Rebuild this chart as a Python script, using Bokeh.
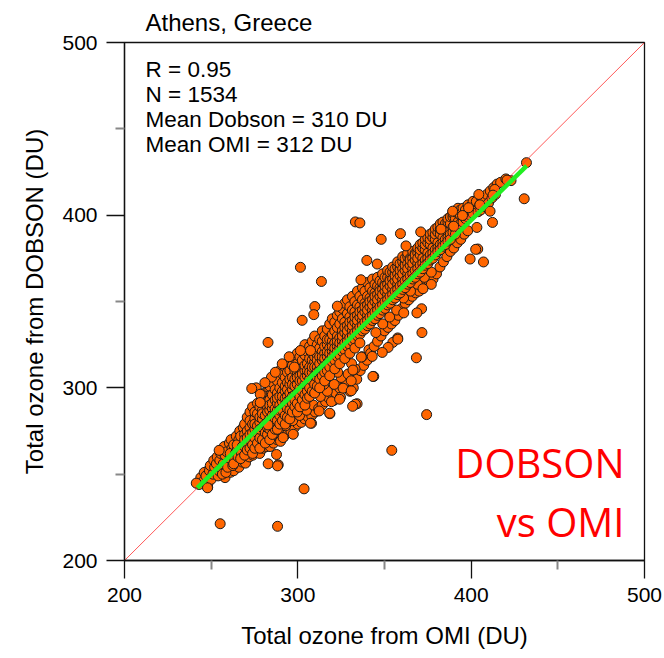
from bokeh.plotting import figure
from bokeh.models import Range1d, Label, FixedTicker, ColumnDataSource
from bokeh.embed import file_html
from bokeh.resources import INLINE

# ---------------- data ----------------
station = "Athens, Greece"
stats_lines = ["R = 0.95", "N = 1534", "Mean Dobson = 310 DU", "Mean OMI = 312 DU"]
x_title = "Total ozone from OMI (DU)"
y_title = "Total ozone from DOBSON (DU)"
big_lines = ["DOBSON", "vs OMI"]
major_ticks = [200, 300, 400, 500]
minor_ticks = [250, 350, 450]
one_to_one = [200, 500]
fit_omi = [242, 432]
fit_dobson = [242.1, 428.5]

# lower-left tail of the cloud (OMI, Dobson)
cloud_tail = [
    (243,244),(244,248),(245.5,246),(246,251),(247,249),(248,244),
    (249,252),(250,247),(249.5,255),(251,250),(252,254),(251.5,258),
    (253,256),(254,249),(253.5,260),(254.5,252),(255,258),(256,253),(255.5,262),(256.5,250),
    (257,256),(258,261),(257.5,266),(258.5,251),(259,263),(260,257),(259.5,254),(260.5,268),
    (261,259),(262,265),(261.5,270),(262.5,255),(261,262),
    (263,267),(264,262),(263.5,258),(264.5,272),(263,256),
    (265,264),(266,270),(265.5,260),(266.5,275),(265,267),
    (267,272),(268,266),(267.5,262),(268.5,277),(267,259),
]

# main body of the cloud: OMI value with the Dobson values seen around it
cloud_groups = [
    (269.3, [266, 273, 279, 261, 270]),
    (270.8, [275, 268, 283, 264, 271]),
    (272.4, [270, 277, 286, 265, 273, 281]),
    (273.9, [279, 267, 274, 289, 262]),
    (275.2, [282, 271, 276, 286, 265, 279]),
    (276.7, [274, 285, 268, 291, 278]),
    (278.1, [280, 289, 271, 283, 276, 265]),
    (279.6, [287, 277, 293, 270, 282, 285]),
    (281.2, [284, 274, 291, 279, 297, 268]),
    (282.5, [289, 280, 273, 286, 295, 277]),
    (283.8, [282, 293, 301, 276, 287, 270, 290]),
    (285.3, [288, 279, 296, 284, 273, 303, 291]),
    (286.9, [293, 285, 299, 276, 288, 281, 307]),
    (288.2, [287, 297, 281, 304, 291, 276, 294]),
    (289.6, [295, 284, 300, 290, 310, 279, 287]),
    (291.1, [292, 303, 287, 298, 281, 308, 295]),
    (292.7, [298, 290, 306, 284, 301, 294, 312, 279]),
    (294.0, [295, 288, 303, 299, 283, 309, 292]),
    (295.4, [302, 293, 310, 287, 297, 305, 282, 315]),
    (296.9, [299, 306, 291, 313, 286, 302, 295]),
    (298.3, [305, 296, 301, 310, 289, 317, 293]),
    (299.7, [302, 309, 297, 314, 291, 306, 320, 286]),
    (301.2, [307, 300, 312, 295, 304, 318, 289]),
    (302.6, [304, 311, 298, 316, 293, 308, 322]),
    (304.1, [310, 302, 306, 319, 296, 313, 290, 325]),
    (305.5, [307, 314, 301, 321, 298, 310, 294]),
    (306.8, [312, 305, 317, 300, 309, 324, 295]),
    (308.3, [309, 316, 304, 320, 298, 312, 327]),
    (309.7, [315, 307, 312, 322, 302, 318, 297, 330]),
    (311.2, [312, 319, 306, 316, 325, 301, 309]),
    (312.6, [318, 310, 314, 323, 305, 328, 300]),
    (314.1, [316, 321, 311, 327, 307, 318, 333]),
    (315.5, [320, 313, 324, 309, 317, 330, 304]),
    (317.0, [318, 325, 314, 321, 334, 310, 328]),
    (318.4, [323, 316, 328, 312, 320, 337, 307]),
    (319.9, [321, 327, 318, 331, 315, 324, 340]),
    (321.3, [326, 320, 333, 316, 323, 338, 311]),
    (322.8, [324, 330, 321, 335, 318, 327, 342]),
    (324.2, [329, 323, 337, 319, 326, 344, 314]),
    (325.7, [327, 333, 324, 340, 321, 330, 346]),
    (327.1, [332, 326, 338, 322, 335, 349, 317]),
    (328.6, [330, 336, 327, 343, 324, 333, 351]),
    (330.0, [335, 329, 341, 325, 338, 347, 320]),
    (331.5, [333, 339, 330, 345, 327, 336, 353]),
    (332.9, [338, 332, 344, 328, 341, 350, 323]),
    (334.4, [336, 342, 333, 348, 330, 339, 356]),
    (335.8, [341, 335, 347, 331, 344, 353, 326]),
    (337.3, [339, 345, 336, 351, 333, 342, 358]),
    (338.7, [344, 338, 349, 334, 347, 356]),
    (340.2, [342, 348, 339, 353, 336, 345, 361]),
    (341.6, [347, 341, 352, 337, 350, 358]),
    (343.1, [345, 351, 342, 356, 339, 348, 363]),
    (344.5, [350, 344, 355, 340, 353, 360]),
    (346.0, [348, 354, 345, 359, 342, 351, 364]),
    (347.4, [353, 347, 358, 343, 356, 362]),
    (348.9, [351, 357, 348, 361, 345, 354, 366]),
    (350.3, [356, 350, 360, 346, 359, 364]),
    (351.8, [354, 360, 351, 364, 348, 357, 368]),
    (353.2, [359, 353, 363, 349, 362, 367]),
    (354.7, [357, 363, 354, 367, 351, 360, 370]),
    (356.1, [362, 356, 366, 352, 365, 369]),
    (357.6, [360, 366, 357, 370, 354, 363, 373]),
    (359.0, [365, 359, 369, 355, 368, 372]),
    (360.5, [363, 369, 360, 373, 357, 366, 376]),
    (361.9, [368, 362, 372, 358, 371, 375]),
    (363.4, [366, 372, 363, 376, 360, 369, 378]),
    (364.8, [371, 365, 375, 361, 374]),
    (366.3, [369, 375, 366, 379, 363, 372]),
    (367.7, [374, 368, 378, 364, 377]),
    (369.2, [372, 378, 369, 381, 366, 375]),
    (370.6, [377, 371, 380, 367, 383]),
    (372.1, [375, 381, 372, 384, 369]),
    (373.5, [380, 374, 383, 371, 386]),
    (375.0, [378, 384, 375, 387, 372]),
    (376.4, [383, 377, 386, 374, 389]),
    (377.9, [381, 387, 378, 390, 375]),
    (379.3, [386, 380, 389, 377, 392]),
    (380.8, [384, 390, 381, 393, 379]),
    (382.2, [389, 383, 392, 380, 395]),
    (383.7, [387, 393, 384, 396, 382]),
    (385.1, [392, 386, 395, 383]),
    (386.6, [390, 396, 387, 398, 385]),
    (388.0, [395, 389, 399, 386]),
    (389.5, [393, 399, 390, 401]),
    (390.9, [398, 392, 402, 389]),
    (392.4, [396, 401, 393, 404]),
    (393.8, [400, 395, 403]),
    (395.3, [398, 404, 396]),
    (396.7, [403, 398, 400]),
    (398.2, [401, 406, 399]),
    (399.6, [405, 400, 403]),
    (401.1, [404, 408, 401]),
]

# upper-right end of the cloud
cloud_top = [
    (403,408),(404,402),(405,406),(406,410),(405.5,403),
    (407,410),(408,405),(409,412),(410,407),(411,414),(412,410),
    (413,416),(414,412),(415,418),(417,419),(420,421),(423,420),
]

# lower flank of the cloud (below the fit line)
cloud_lower = [
    (247.7,251.7),(248,242.4),(258,248),(261.2,251.1),(263,252),(266,254),(268,257),
    (269.8,256.4),(272,260),(274,261),(276,263),(278,262),(280,265),(282,266),
    (282.9,256),(288.7,255.4),(287.7,261.4),(291.5,271.4),(297.3,273.4),
    (284,266),(286,268),(288,270),(290,269),(292,272),(294,274),(296,275),(298,277),
    (300,279),(302,280),(304,282),(306,283),(308,284),(310,286),(307.9,279.5),
    (285,272),(289,276),(293,278),(297,281),(301,284),(305,287),(309,290),
    (312,288),(314,290),(316,292),(318,294),(318.5,285),(320,296),(320.8,292.7),(322,297),
    (324,300),(324.6,294.6),(326,302),(326.5,300.4),(328,303),(330,298),(331.3,299.4),
    (332,300),(334,305),(334.2,290.8),(336,310),(338,313),(340,316),(343.8,306.6),
    (313,295),(317,298),(321,302),(325,306),(329,308),(333,311),(337,318),(341,322),
    (315,302),(323,309),(331,314),
    (342,320),(344,324),(346,327),(348,330),(350,333),(352,335),(354,337),(356,339),
    (358,342),(360,346),(362,349),(364,351),(366,353),(368,355),(370,356),(372,358),
    (374,360),(376,361),(378,363),(380,366),
    (345,332),(349,337),(353,341),(357,345),(361,352),(365,356),(369,360),(373,364),(377,367),
    (382,370),(384,373),(386,376),(388,379),(390,381),(392,384),(394,386),(396,389),(398,391),
]

# upper bulge of the cloud
cloud_upper = [
    (279,296.5),(284.8,306.2),(291,313.9),(301.5,321.6),(307.3,321.6),
    (276,300),(281,303),(287,309),(295,318),(298,312),
]

# scattered points away from the main band
outliers = [
    (333.2,396.1),(335.8,395.5),(348.1,386.0),(359.2,389.3),(370.9,390.3),(362.4,382.2),
    (404.4,412.0),(430.6,409.5),(412.3,395.8),(403.3,392.9),(403.8,380.4),(399.4,374.6),
    (407.1,372.9),(410.9,402.3),(301.5,369.8),(313.6,361.6),(339.8,373.8),(345.8,371.7),
    (336.4,362.6),(309.8,347.1),(309.2,342.4),(302.5,339.1),(322.8,347.3),(282.8,326.3),
    (377.0,359.9),(372.2,357.4),(361.1,343.4),(371.4,345.8),(368.7,343.4),(371.6,332.0),
    (368.4,317.4),(357.6,328.9),(354.8,326.3),(352.1,323.4),(348.7,320.5),(343.3,306.6),
    (342.9,318.2),(374.3,284.5),(354.2,263.8),(303.6,241.5),(255.2,221.3),(288.3,219.8),
    (273.4,299.6),(282.8,278.5),(288.3,254.8),(247.9,242.1),(241.4,244.8),(254.6,263.8),
    (333.2,290.5),(331.6,289.3),(318.4,285.3),(307.3,279.5),(297.3,273.1),(431.9,430.4),
    (420.7,420.3),(413.6,414.9),(398.5,404.3),(405.0,406.0),(389.3,402.3),(395.0,399.8),
    (382.6,391.9),(389.9,393.6),(412.6,411.6),(402.6,380.2),(336.6,317.8),(357.7,328.2),
    (278.3,296.3),(278.3,291.5),(326.1,299.8),(330.8,298.3),(330.8,304.1),(331.8,310.3),
    (319.4,292.0),(324.1,293.4),(291.5,271.2),(312.3,286.6),
]

cloud_body = [(x, y) for x, ys in cloud_groups for y in ys]
all_points = cloud_lower + cloud_tail + cloud_body + cloud_top + cloud_upper + outliers
omi = [pt[0] for pt in all_points]
dobson = [pt[1] for pt in all_points]
src = ColumnDataSource(data=dict(omi=omi, dobson=dobson))

# ---------------- figure ----------------
FONT = "Liberation Sans"
p = figure(width=664, height=658, x_range=Range1d(200, 500), y_range=Range1d(200, 500),
           output_backend="svg", toolbar_location=None,
           min_border_left=124, min_border_right=20, min_border_top=42, min_border_bottom=98)
p.grid.visible = False
p.outline_line_color = "#111111"
p.outline_line_width = 1.3
p.background_fill_color = "white"
p.border_fill_color = "white"

p.title.text = station
p.title.align = "left"
p.title.vertical_align = "top"
p.title.offset = 21
p.title.standoff = 9
p.title.text_font = FONT
p.title.text_font_size = "24px"
p.title.text_font_style = "normal"
p.title.text_color = "black"

for ax in (p.xaxis[0], p.yaxis[0]):
    ax.ticker = FixedTicker(ticks=major_ticks, minor_ticks=minor_ticks)
    ax.axis_line_color = "#111111"
    ax.axis_line_width = 1.3
    ax.major_tick_line_color = "#111111"
    ax.major_tick_line_width = 1.3
    ax.major_tick_in = 0
    ax.major_tick_out = 18
    ax.minor_tick_in = 0
    ax.minor_tick_out = 9
    ax.minor_tick_line_color = "#888888"
    ax.minor_tick_line_width = 2
    ax.major_label_text_font = FONT
    ax.major_label_text_font_size = "21px"
    ax.major_label_text_color = "black"
    ax.major_label_standoff = 9
    ax.axis_label_text_font = FONT
    ax.axis_label_text_font_size = "24px"
    ax.axis_label_text_font_style = "normal"
    ax.axis_label_text_color = "black"

p.xaxis.axis_label = x_title
p.yaxis.axis_label = y_title
p.xaxis.axis_label_standoff = 17
p.yaxis.axis_label_standoff = 11

p.scatter("omi", "dobson", source=src, size=10, fill_color="#FF6600",
          line_color="#1a1a1a", line_width=1)
p.line(one_to_one, one_to_one, line_color="#FF3030", line_width=1, line_alpha=0.8)
p.line(fit_omi, fit_dobson, line_color="#22EE22", line_width=4.5)

def px_to_x(px):
    return 200 + (px - 124) / 1.7333

def px_to_y(py):
    return 200 + (560 - py) / 1.7267

for i, line in enumerate(stats_lines):
    p.add_layout(Label(x=px_to_x(145), y=px_to_y(69 + 25 * i), text=line, text_font=FONT,
                       text_font_size="22.5px", text_baseline="middle", text_color="black"))
for i, line in enumerate(big_lines):
    p.add_layout(Label(x=px_to_x(624), y=px_to_y(462 + 59 * i), text=line, text_font="Open Sans",
                       text_font_size="40px", text_baseline="middle", text_align="right",
                       text_color="#FF0000"))

open("out.html", "w").write(file_html(p, INLINE))
